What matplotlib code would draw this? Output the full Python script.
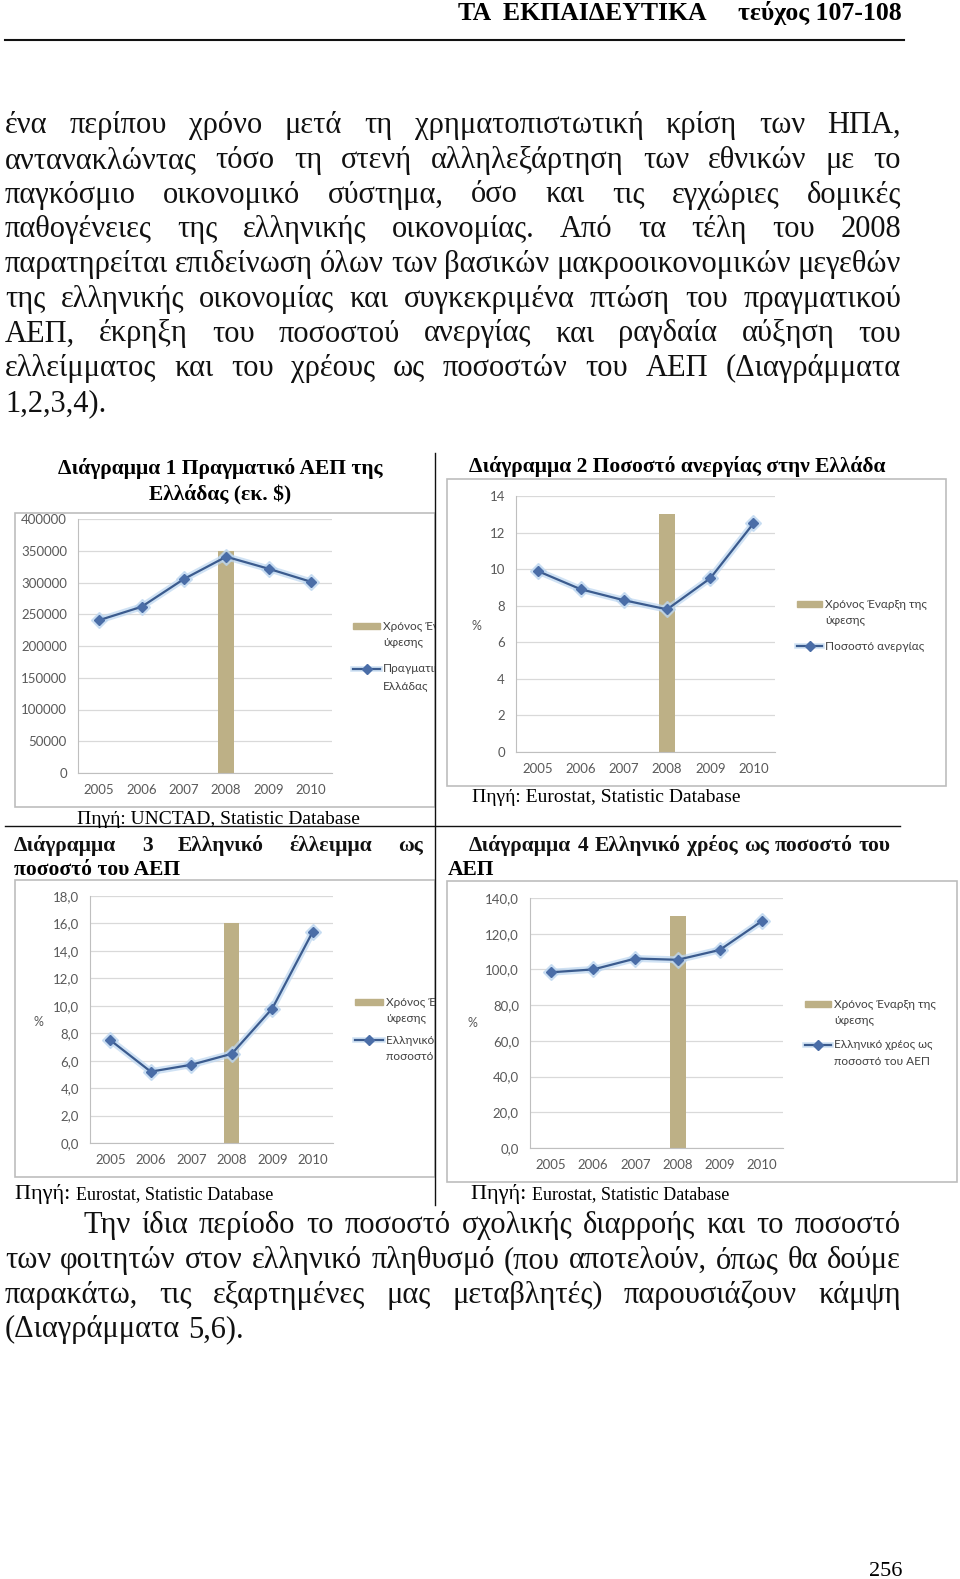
import matplotlib
matplotlib.use("Agg")
import matplotlib.pyplot as plt
import numpy as np
from matplotlib.patches import Rectangle
from matplotlib.ticker import FuncFormatter
from matplotlib.transforms import Bbox, TransformedBbox

# ---- data ----
years = [2005, 2006, 2007, 2008, 2009, 2010]
crisis_year = 2008
gdp = [240700, 261700, 305400, 340600, 321700, 301200]
unemployment = [9.9, 8.9, 8.3, 7.8, 9.5, 12.5]
deficit = [7.5, 5.2, 5.7, 6.5, 9.8, 15.4]
debt = [98.4, 100.0, 106.1, 105.4, 110.9, 127.1]
crisis_bar = [350000, 13, 16, 130]

bar_label = ["Χρόνος Έναρξη της", "ύφεσης"]
line_labels = [["Πραγματικό ΑΕΠ της", "Ελλάδας"],
               ["Ποσοστό ανεργίας"],
               ["Ελληνικό έλλειμμα ως", "ποσοστό του ΑΕΠ"],
               ["Ελληνικό χρέος ως", "ποσοστό του ΑΕΠ"]]

header_left = "ΤΑ  ΕΚΠΑΙΔΕΥΤΙΚΑ"
header_right = "τεύχος 107-108"
para1 = ["ένα περίπου χρόνο μετά τη χρηματοπιστωτική κρίση των ΗΠΑ,",
         "αντανακλώντας τόσο τη στενή αλληλεξάρτηση των εθνικών με το",
         "παγκόσμιο οικονομικό σύστημα, όσο και τις εγχώριες δομικές",
         "παθογένειες της ελληνικής οικονομίας. Από τα τέλη του 2008",
         "παρατηρείται επιδείνωση όλων των βασικών μακροοικονομικών μεγεθών",
         "της ελληνικής οικονομίας και συγκεκριμένα πτώση του πραγματικού",
         "ΑΕΠ, έκρηξη του ποσοστού ανεργίας και ραγδαία αύξηση του",
         "ελλείμματος και του χρέους ως ποσοστών του ΑΕΠ (Διαγράμματα",
         "1,2,3,4)."]
para2 = ["Την ίδια περίοδο το ποσοστό σχολικής διαρροής και το ποσοστό",
         "των φοιτητών στον ελληνικό πληθυσμό (που αποτελούν, όπως θα δούμε",
         "παρακάτω, τις εξαρτημένες μας μεταβλητές) παρουσιάζουν κάμψη",
         "(Διαγράμματα 5,6)."]
page_no = "256"

SERIF = "Liberation Serif"
SANS = "Lato"
BAR = "#BDB086"
LINE = "#3B5B8E"
MARK = "#4A6DA7"
GLOW = "#BCD6F0"
TICK = "#595959"

fig = plt.figure(figsize=(9.6, 15.79), dpi=100)
page = fig.add_axes([0, 0, 1, 1], zorder=0)
page.set_xlim(0, 960)
page.set_ylim(1579, 0)
page.axis("off")
renderer = fig.canvas.get_renderer()


def justify(text, x0, x1, y, size, weight="normal", last=False):
    words = text.split()
    objs = [page.text(0, y, w, fontsize=size, family=SERIF, weight=weight,
                      va="baseline", color="#111111") for w in words]
    widths = [o.get_window_extent(renderer).width for o in objs]
    space = size * 0.25 * 100 / 72
    if sum(widths) + space * 0.7 * (len(words) - 1) > x1 - x0:
        k = (x1 - x0) / (sum(widths) + space * 0.7 * (len(words) - 1))
        for o in objs:
            o.set_fontsize(size * k)
        widths = [w * k for w in widths]
    if last or len(words) == 1:
        gap = space
    else:
        gap = (x1 - x0 - sum(widths)) / (len(words) - 1)
    x = x0
    for o, w in zip(objs, widths):
        o.set_x(x)
        x += w + gap


# header
page.text(458, 20, header_left, family=SERIF, weight="bold", fontsize=18.5, va="baseline")
page.text(902, 20, header_right, family=SERIF, weight="bold", fontsize=18.5, va="baseline", ha="right")
page.plot([5, 904], [40, 40], color="#111111", lw=1.5)

for i, line in enumerate(para1):
    justify(line, 5, 901, 133 + i * 34.75, 22, last=(i == len(para1) - 1))
for i, line in enumerate(para2):
    justify(line, 83 if i == 0 else 5, 901, 1233 + i * 34.75, 22, last=(i == len(para2) - 1))
page.text(902, 1576, page_no, family=SERIF, fontsize=16, ha="right", va="baseline")

# table lines
page.plot([435, 435], [453, 1205], color="#111111", lw=1.0)
page.plot([5, 900], [826, 826], color="#111111", lw=1.0)

# chart titles
page.text(220, 474, "Διάγραμμα 1 Πραγματικό ΑΕΠ της", family=SERIF, weight="bold", fontsize=15.5, ha="center", va="baseline")
page.text(220, 499, "Ελλάδας (εκ. $)", family=SERIF, weight="bold", fontsize=15.5, ha="center", va="baseline")
page.text(469, 472, "Διάγραμμα 2 Ποσοστό ανεργίας στην Ελλάδα", family=SERIF, weight="bold", fontsize=15.5, va="baseline")
justify("Διάγραμμα 3 Ελληνικό έλλειμμα ως", 14, 423, 851, 15.5, weight="bold")
page.text(14, 875, "ποσοστό του ΑΕΠ", family=SERIF, weight="bold", fontsize=15.5, va="baseline")
justify("Διάγραμμα 4 Ελληνικό χρέος ως ποσοστό του", 469, 891, 851, 15.5, weight="bold")
page.text(448, 875, "ΑΕΠ", family=SERIF, weight="bold", fontsize=15.5, va="baseline")

# sources
page.text(218, 819, "Πηγή: UNCTAD, Statistic Database", family=SERIF, fontsize=14, ha="center", va="center")
page.text(472, 798, "Πηγή: Eurostat, Statistic Database", family=SERIF, fontsize=14, va="center")
for sx, sy in [(15, 1194), (471, 1194)]:
    t = page.text(sx, sy, "Πηγή: ", family=SERIF, fontsize=16, va="center")
    w = t.get_window_extent(renderer).width
    page.text(sx + w, sy + 1, "Eurostat, Statistic Database", family=SERIF, fontsize=13, va="center")

CUT = 435
left_clip = TransformedBbox(Bbox.from_extents(0, 0, CUT / 960, 1), fig.transFigure)

# chart specs: frame, plot area (x0, x1, ytop, ybot), ymax, step, decimals,
# percent label pos, legend (patch x0, x1, y bar, y line), clipped by the column rule
charts = [
    dict(vals=gdp, frame=(15, 513, 435, 807), area=(78, 332, 519, 773), ymax=400000, step=50000,
         dec=0, pct=None, leg=(353, 380, 626, 669), clip=True),
    dict(vals=unemployment, frame=(447, 479, 946, 786), area=(516, 775, 496, 752), ymax=14, step=2,
         dec=0, pct=(476, 626), leg=(797, 822, 604, 646), clip=False),
    dict(vals=deficit, frame=(15, 880, 435, 1177), area=(90, 333, 896, 1143), ymax=18, step=2,
         dec=1, pct=(38, 1022), leg=(355, 383, 1002, 1040), clip=True),
    dict(vals=debt, frame=(447, 881, 957, 1182), area=(530, 783, 898, 1148), ymax=140, step=20,
         dec=1, pct=(472, 1023), leg=(805, 831, 1004, 1045), clip=False),
]

for k, c in enumerate(charts):
    fx0, fy0, fx1, fy1 = c["frame"]
    page.add_patch(Rectangle((fx0, fy0), fx1 - fx0, fy1 - fy0, fill=False, ec="#BDBDBD", lw=1.2))
    x0, x1, yt, yb = c["area"]
    ax = fig.add_axes([x0 / 960, (1579 - yb) / 1579, (x1 - x0) / 960, (yb - yt) / 1579], zorder=2)
    ax.set_facecolor("none")
    xs = np.arange(len(years))
    ax.bar(years.index(crisis_year), crisis_bar[k], width=0.38, color=BAR, zorder=2)
    ax.plot(xs, c["vals"], color=GLOW, lw=5, alpha=0.7, marker="D", ms=8, mec=GLOW, zorder=3)
    ax.plot(xs, c["vals"], color=LINE, lw=1.6, marker="D", ms=5, mfc=MARK, mec=MARK, zorder=4)
    ax.set_xlim(-0.5, len(years) - 0.5)
    ax.set_ylim(0, c["ymax"])
    ax.set_yticks(np.arange(0, c["ymax"] + c["step"] / 2, c["step"]))
    dec = c["dec"]
    ax.yaxis.set_major_formatter(FuncFormatter(
        lambda v, p, d=dec: ("%.*f" % (d, v)).replace(".", ",")))
    ax.set_xticks(xs)
    ax.set_xticklabels([str(y) for y in years])
    ax.grid(axis="y", color="#D9D9D9", lw=0.9)
    ax.set_axisbelow(True)
    for s in ["top", "right"]:
        ax.spines[s].set_visible(False)
    ax.spines["left"].set_color("#BFBFBF")
    ax.spines["bottom"].set_color("#BFBFBF")
    ax.tick_params(length=0, labelsize=9.5, labelcolor=TICK, pad=8)
    for lab in ax.get_xticklabels() + ax.get_yticklabels():
        lab.set_family(SANS)

    if c["pct"]:
        page.text(c["pct"][0], c["pct"][1], "%", family=SANS, fontsize=9, color=TICK, ha="center", va="center")

    lx0, lx1, ly_bar, ly_line = c["leg"]
    arts = []
    texts = []
    arts.append(page.add_patch(Rectangle((lx0, ly_bar - 3), lx1 - lx0, 6, color=BAR)))
    arts += page.plot([lx0, lx1], [ly_line, ly_line], color=GLOW, lw=4, alpha=0.7)
    arts += page.plot([lx0, lx1], [ly_line, ly_line], color=LINE, lw=1.6)
    arts += page.plot([(lx0 + lx1) / 2], [ly_line], marker="D", ms=5, color=MARK)
    tx = lx1 + 3
    for j, s in enumerate(bar_label):
        texts.append(page.text(tx, ly_bar + j * 17, s, family=SANS, fontsize=8.5, color="#404040", va="center"))
    for j, s in enumerate(line_labels[k]):
        texts.append(page.text(tx, ly_line + j * 16.5, s, family=SANS, fontsize=8.5, color="#404040", va="center"))
    if c["clip"]:
        # the chart image runs past the column rule and is cut there
        for t in texts:
            s = t.get_text()
            while len(s) > 1 and t.get_window_extent(renderer).x1 > CUT + 6:
                s = s[:-1]
                t.set_text(s)
        for a in arts + texts:
            a.set_clip_box(left_clip)
            a.set_clip_on(True)

fig.savefig("out.png", dpi=100)
